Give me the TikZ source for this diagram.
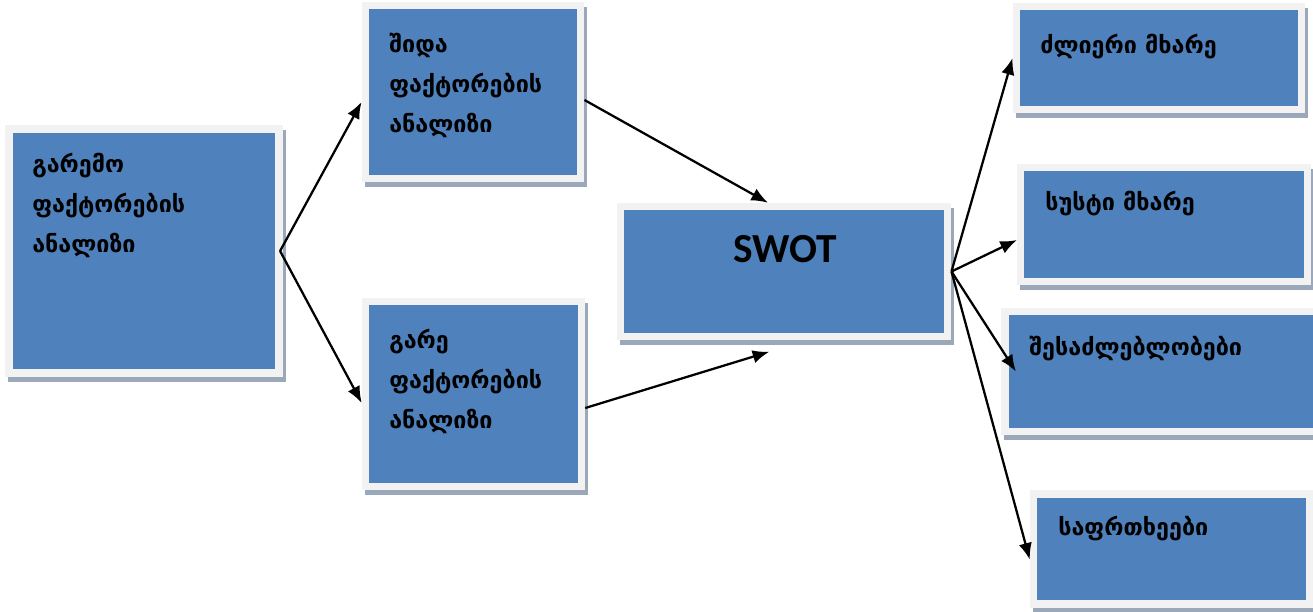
\documentclass[tikz,border=0pt]{standalone}
\usepackage{fontspec}
\setmainfont{Carlito}
\newfontfamily\geofont{DejaVu Sans}
\usetikzlibrary{arrows.meta,shadows}
\definecolor{boxblue}{HTML}{4F81BD}
\definecolor{boxrim}{HTML}{F2F2F2}
\definecolor{boxshade}{HTML}{9AA8BA}
\tikzset{
  factor/.style={draw=boxrim, fill=boxblue, line width=5.6pt, inner sep=0pt,
    drop shadow={shadow xshift=2.25pt, shadow yshift=-3.75pt, opacity=1,
      fill=boxshade, draw=boxshade, line width=5.6pt}},
  caption/.style={anchor=base west, align=left, inner sep=0pt,
    font=\geofont\bfseries\fontsize{17.5}{30}\selectfont},
  link/.style={-{Latex[length=12.5pt,width=10pt]}, line width=1.7pt}
}
\begin{document}
\begin{tikzpicture}[x=0.75pt, y=-0.75pt]
  \useasboundingbox (0,0) rectangle (1313,611);
  % boxes
  \node[factor, minimum width=202.5pt, minimum height=183pt] (garemo) at (144,251) {};
  \node[factor, minimum width=161.6pt, minimum height=129.4pt] (shida) at (473,92) {};
  \node[factor, minimum width=162pt, minimum height=138.4pt] (gare) at (473.5,394) {};
  \node[factor, minimum width=245.6pt, minimum height=97.5pt] (swot) at (784,271.5) {};
  \node[factor, minimum width=214.1pt, minimum height=77.6pt] (dzlieri) at (1159,58) {};
  \node[factor, minimum width=214.9pt, minimum height=85.5pt] (susti) at (1164,224.5) {};
  \node[factor, minimum width=234.75pt, minimum height=90pt] (shesadz) at (1161.5,371.5) {};
  \node[factor, minimum width=207pt, minimum height=82.5pt] (safrtkhe) at (1171.5,549) {};
  % texts (base = last line)
  \node[caption] (t-garemo) at (32,252) {გარემო\\ფაქტორების\\ანალიზი};
  \node[caption] (t-shida) at (389,132) {შიდა\\ფაქტორების\\ანალიზი};
  \node[caption] (t-gare) at (389,428) {გარე\\ფაქტორების\\ანალიზი};
  \node[anchor=base, inner sep=0pt, font=\bfseries\fontsize{31}{36}\selectfont] (t-swot) at (785,262) {SWOT};
  \node[caption] (t-dzlieri) at (1040,53) {ძლიერი მხარე};
  \node[caption] (t-susti) at (1045,210) {სუსტი მხარე};
  \node[caption] (t-shesadz) at (1029,355) {შესაძლებლობები};
  \node[caption] (t-safrtkhe) at (1058,535) {საფრთხეები};
  % arrows
  \draw[link] ([xshift=-2pt]garemo.east) -- ([yshift=-7.5pt]shida.west);
  \draw[link] ([xshift=-2pt]garemo.east) -- ([yshift=-6.75pt]gare.west);
  \draw[link] ([yshift=-6pt]shida.east) -- ([xshift=-12pt]swot.north);
  \draw[link] ([yshift=-10.5pt]gare.east) -- ([xshift=-11pt,yshift=-8.6pt]swot.south);
  \draw[link] (swot.east) -- (dzlieri.west);
  \draw[link] (swot.east) -- ([yshift=-11.6pt]susti.west);
  \draw[link] (swot.east) -- ([xshift=11pt]shesadz.west);
  \draw[link] (swot.east) -- ([yshift=-8pt]safrtkhe.west);
\end{tikzpicture}
\end{document}
